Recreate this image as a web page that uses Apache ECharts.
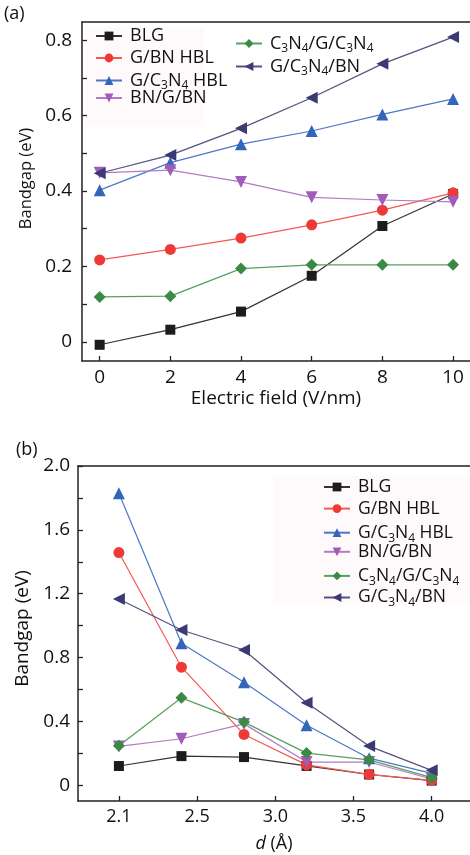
<!DOCTYPE html>
<html>
<head>
<meta charset="utf-8">
<script src="https://cdn.jsdelivr.net/npm/echarts@6/dist/echarts.min.js"></script>
<style>
html,body{margin:0;padding:0;background:#fff;}
#chart{width:470px;height:855px;}
</style>
</head>
<body>
<div id="chart"></div>
<script>
// ---------- data ----------
var seriesNames = ['BLG', 'G/BN HBL', 'G/C3N4 HBL', 'BN/G/BN', 'C3N4/G/C3N4', 'G/C3N4/BN'];

// panel (a): bandgap vs electric field
var fieldA = [0, 2, 4, 6, 8, 10];
var aBLG       = [-0.008, 0.032, 0.080, 0.175, 0.307, 0.392];
var aGBN       = [0.217, 0.245, 0.275, 0.310, 0.349, 0.395];
var aGC3N4     = [0.402, 0.475, 0.524, 0.559, 0.603, 0.644];
var aBNGBN     = [0.448, 0.455, 0.424, 0.383, 0.376, 0.371];
var aC3N4GC3N4 = [0.119, 0.121, 0.194, 0.204, 0.204, 0.204];
var aGC3N4BN   = [0.447, 0.495, 0.566, 0.647, 0.737, 0.808];
var xTicksA = [0, 2, 4, 6, 8, 10];
var yTicksA = [0, 0.2, 0.4, 0.6, 0.8];
var yMinorA = [0, 0.1, 0.2, 0.3, 0.4, 0.5, 0.6, 0.7, 0.8];

// panel (b): bandgap vs interlayer distance d
// sample positions along the axis, in tick-interval units (ticks are evenly spaced)
var dPosB = [0, 0.8, 1.6, 2.4, 3.2, 4.0];
var xTickLabelsB = ['2.1', '2.5', '3.0', '3.5', '4.0'];
var bBLG       = [0.121, 0.183, 0.177, 0.122, 0.068, 0.030];
var bGBN       = [1.458, 0.740, 0.319, 0.128, 0.069, 0.031];
var bGC3N4     = [1.830, 0.890, 0.646, 0.376, 0.170, 0.075];
var bBNGBN     = [0.244, 0.292, 0.385, 0.146, 0.146, 0.040];
var bC3N4GC3N4 = [0.248, 0.548, 0.396, 0.202, 0.160, 0.048];
var bGC3N4BN   = [1.167, 0.973, 0.848, 0.517, 0.246, 0.094];
var yTicksB = [0, 0.4, 0.8, 1.2, 1.6, 2.0];
var yMinorB = [0, 0.2, 0.4, 0.6, 0.8, 1.0, 1.2, 1.4, 1.6, 1.8, 2.0];

// ---------- styles ----------
var colors = ['#1c1c1c', '#ee3a36', '#3366bb', '#a05cb6', '#3a8a46', '#3c3a72'];
var lineColors = ['#333333', '#f25a55', '#4a78c6', '#b47ac4', '#56a05e', '#55527f'];
var symbols = ['rect', 'circle', 'triangle', 'triangle', 'diamond', 'triangle'];
var rotates = [0, 0, 0, 180, 0, 90];
var sizes = [10, 11, 12, 12, 12, 12];

var FONT = 'Open Sans';
var AX = '#222';

function richName(n) {
  var map = {
    'BLG': '{n|BLG}',
    'G/BN HBL': '{n|G/BN HBL}',
    'G/C3N4 HBL': '{n|G/C}{s|3}{n|N}{s|4}{n| HBL}',
    'BN/G/BN': '{n|BN/G/BN}',
    'C3N4/G/C3N4': '{n|C}{s|3}{n|N}{s|4}{n|/G/C}{s|3}{n|N}{s|4}',
    'G/C3N4/BN': '{n|G/C}{s|3}{n|N}{s|4}{n|/BN}'
  };
  return map[n];
}
function makeRich(fs) {
  return {
    n: {fontSize: fs, fontFamily: FONT, color: '#111', lineHeight: 22},
    s: {fontSize: 12, fontFamily: FONT, color: '#111', lineHeight: 22, padding: [11, 0, 0, 0]}
  };
}

function makeSeries(name, i, xs, ys, axisIdx) {
  var data = xs.map(function (x, k) { return [x, ys[k]]; });
  return {
    name: name, type: 'line', xAxisIndex: axisIdx, yAxisIndex: axisIdx,
    data: data, symbol: symbols[i], symbolSize: sizes[i], symbolRotate: rotates[i],
    itemStyle: {color: colors[i]},
    lineStyle: {color: lineColors[i], width: 1.2},
    emphasis: {disabled: true}, animation: false
  };
}

var aData = [aBLG, aGBN, aGC3N4, aBNGBN, aC3N4GC3N4, aGC3N4BN];
var bData = [bBLG, bGBN, bGC3N4, bBNGBN, bC3N4GC3N4, bGC3N4BN];
var series = [];
seriesNames.forEach(function (n, i) { series.push(makeSeries(n, i, fieldA, aData[i], 0)); });
seriesNames.forEach(function (n, i) { series.push(makeSeries(n, i, dPosB, bData[i], 1)); });

function legendItem(name, left, cy, fs) {
  return {
    data: [name], left: left, top: cy - 11, orient: 'vertical',
    itemWidth: 26, itemHeight: 11, itemGap: 0, padding: 0,
    selectedMode: false,
    formatter: function (n) { return richName(n); },
    textStyle: {rich: makeRich(fs), padding: [0, 0, 0, 3]}
  };
}
var legends = [
  legendItem('BLG', 95, 38, 18),
  legendItem('G/BN HBL', 95, 60, 18),
  legendItem('G/C3N4 HBL', 95, 80, 18),
  legendItem('BN/G/BN', 95, 100, 18),
  legendItem('C3N4/G/C3N4', 235, 43, 18),
  legendItem('G/C3N4/BN', 235, 66, 18)
];
seriesNames.forEach(function (n, i) { legends.push(legendItem(n, 323, 489 + 21.6 * i, 17.5)); });

function fmt(v) { return Math.abs(v) < 1e-9 ? '0' : v.toFixed(1); }

var axisLineStyle = {show: true, onZero: false, lineStyle: {color: AX, width: 1.5}};

var option = {
  backgroundColor: '#fff',
  animation: false,
  legend: legends,
  graphic: [
    {type: 'rect', z: -10, shape: {x: 86, y: 27, width: 118, height: 100}, style: {fill: '#fefafb'}},
    {type: 'rect', z: -10, shape: {x: 273, y: 476, width: 200, height: 127}, style: {fill: '#fefafb'}},
    {type: 'text', left: 4, top: 5, style: {text: '(a)', fontSize: 18, fontFamily: FONT, fill: '#111'}},
    {type: 'text', left: 16, top: 441, style: {text: '(b)', fontSize: 18, fontFamily: FONT, fill: '#111'}}
  ],
  grid: [
    {left: 82, top: 22, width: 392, height: 339},
    {left: 78, top: 466, width: 396, height: 335}
  ],
  xAxis: [
    {
      gridIndex: 0, type: 'value', min: -0.5, max: 10.48,
      name: 'Electric field (V/nm)', nameLocation: 'middle', nameGap: 28,
      nameTextStyle: {fontSize: 19, fontFamily: FONT, color: '#111'},
      axisLine: axisLineStyle,
      axisTick: {show: true, inside: true, length: 5, customValues: xTicksA, lineStyle: {color: AX, width: 1.3}},
      axisLabel: {customValues: xTicksA, margin: 7, formatter: function (v) { return String(v); }, fontSize: 19, fontFamily: FONT, color: '#111'},
      splitLine: {show: false}
    },
    {
      gridIndex: 1, type: 'value', min: -0.523, max: 4.49,
      name: '{i|d} (Å)', nameLocation: 'middle', nameGap: 34,
      nameTextStyle: {fontSize: 18, fontFamily: FONT, color: '#111', rich: {i: {fontSize: 18, fontFamily: FONT, fontStyle: 'italic', color: '#111'}}},
      axisLine: axisLineStyle,
      axisTick: {show: true, inside: true, length: 5, customValues: [0, 1, 2, 3, 4], lineStyle: {color: AX, width: 1.3}},
      axisLabel: {customValues: [0, 1, 2, 3, 4], margin: 7, formatter: function (v) { return xTickLabelsB[Math.round(v)]; }, fontSize: 18, fontFamily: FONT, color: '#111'},
      splitLine: {show: false}
    },
    {gridIndex: 0, type: 'value', position: 'top', min: -0.5, max: 10.48, axisLine: axisLineStyle, axisTick: {show: false}, axisLabel: {show: false}, splitLine: {show: false}},
    {gridIndex: 1, type: 'value', position: 'top', min: -0.523, max: 4.49, axisLine: axisLineStyle, axisTick: {show: false}, axisLabel: {show: false}, splitLine: {show: false}}
  ],
  yAxis: [
    {
      gridIndex: 0, type: 'value', min: -0.051, max: 0.848,
      name: 'Bandgap (eV)', nameLocation: 'middle', nameGap: 43,
      nameTextStyle: {fontSize: 16.5, fontFamily: FONT, color: '#111', padding: [0, 0, 0, 26]},
      axisLine: axisLineStyle,
      axisTick: {show: true, inside: true, length: 5, customValues: yMinorA, lineStyle: {color: AX, width: 1.3}},
      axisLabel: {customValues: yTicksA, margin: 10, formatter: fmt, fontSize: 19, fontFamily: FONT, color: '#111'},
      splitLine: {show: false}
    },
    {
      gridIndex: 1, type: 'value', min: -0.098, max: 2.0,
      name: 'Bandgap (eV)', nameLocation: 'middle', nameGap: 37,
      nameTextStyle: {fontSize: 19, fontFamily: FONT, color: '#111', padding: [0, 0, 0, 10]},
      axisLine: axisLineStyle,
      axisTick: {show: true, inside: true, length: 5, customValues: yMinorB, lineStyle: {color: AX, width: 1.3}},
      axisLabel: {customValues: yTicksB, margin: 8, formatter: fmt, fontSize: 19, fontFamily: FONT, color: '#111'},
      splitLine: {show: false}
    }
  ],
  series: series
};

var chart = echarts.init(document.getElementById('chart'), null, {renderer: 'canvas'});
chart.setOption(option);
</script>
</body>
</html>
